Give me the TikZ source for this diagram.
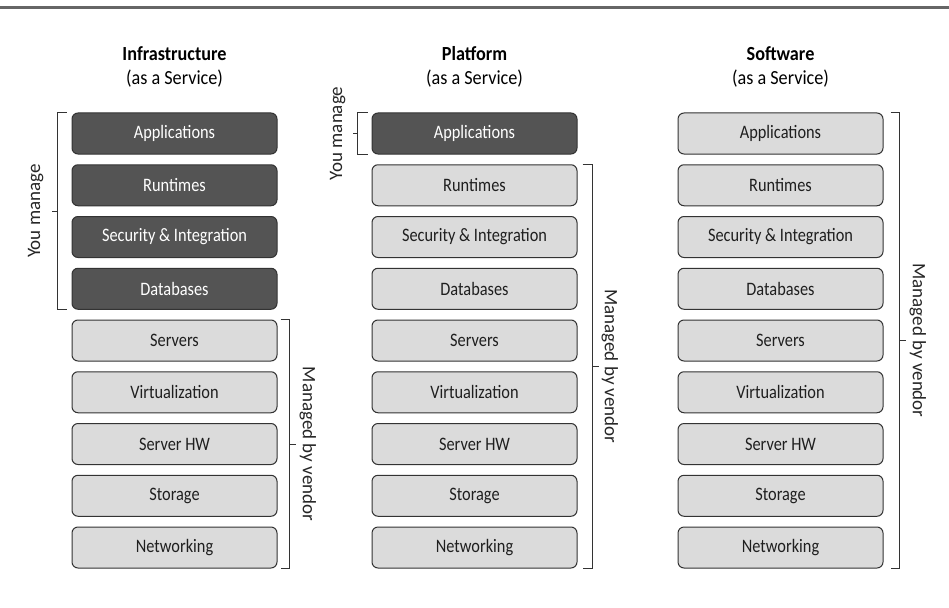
\documentclass[tikz,border=0pt]{standalone}
\usepackage{fontspec}
\setmainfont{Carlito}
\newfontfamily\narrowfont{Carlito}[FakeStretch=0.86]
\newfontfamily\headfont{Carlito}[FakeStretch=0.91]
\usetikzlibrary{positioning,calc}

\tikzset{
  layer/.style={draw=black!80,line width=1pt,rounded corners=6pt,
    minimum width=205pt,minimum height=41pt,inner sep=0pt,
    font=\narrowfont\fontsize{19}{21}\selectfont},
  light/.style={layer,fill=black!14,text=black!88},
  dark/.style={layer,fill=black!67,text=white},
  brace/.style={draw=black!80,line width=0.8pt},
  side/.style={font=\fontsize{19}{21}\selectfont,text=black!85,inner sep=0pt},
  heading/.style={font=\headfont\fontsize{20}{24}\selectfont\bfseries},
  subhead/.style={font=\headfont\fontsize{20}{24}\selectfont}
}

\begin{document}
\begin{tikzpicture}[x=1pt,y=-1pt]
\useasboundingbox (0,0) rectangle (949,607);
\draw[black!60,line width=2.5pt] (0,7.5) -- (949,7.5);

% column titles
\node[heading] (ihead) at (174.5,54) {Infrastructure};
\node[subhead] (isub) at (174.5,79) {(as a Service)};
\node[heading] (phead) at (474.5,54) {Platform};
\node[subhead] (psub) at (474.5,79) {(as a Service)};
\node[heading] (shead) at (780.5,54) {Software};
\node[subhead] (ssub) at (780.5,79) {(as a Service)};

% the stacks
\foreach \lbl [count=\k, evaluate=\k as \yy using 133.5+51.75*(\k-1)] in
  {Applications,Runtimes,Security \& Integration,Databases,Servers,
   Virtualization,Server HW,Storage,Networking} {
  \ifnum\k<5 \def\istyle{dark}\else\def\istyle{light}\fi
  \ifnum\k<2 \def\pstyle{dark}\else\def\pstyle{light}\fi
  \node[\istyle] (i\k) at (174.5,\yy) {\lbl};
  \node[\pstyle] (p\k) at (474.5,\yy) {\lbl};
  \node[light] (s\k) at (780.5,\yy) {\lbl};
}

% Infrastructure brackets
\draw[brace] ([xshift=-5pt]i1.north west) -- ++(-9,0) |- ([xshift=-5pt]i4.south west);
\coordinate (imine) at ($([xshift=-14pt]i1.north west)!0.5!([xshift=-14pt]i4.south west)$);
\draw[brace] (imine) -- ++(-6,0) coordinate (iminetip);
\node[side,rotate=90,anchor=south] at ([xshift=-8pt]iminetip) {You manage};
\draw[brace] ([xshift=3pt]i5.north east) -- ++(9,0) |- ([xshift=3pt]i9.south east);
\coordinate (ivend) at ($([xshift=12pt]i5.north east)!0.5!([xshift=12pt]i9.south east)$);
\draw[brace] (ivend) -- ++(6,0) coordinate (ivendtip);
\node[side,rotate=-90,anchor=south] at ([xshift=4pt]ivendtip) {Managed by vendor};

% Platform brackets
\draw[brace] ([xshift=-4pt]p1.north west) -- ++(-10,0) |- ([xshift=-4pt]p1.south west);
\coordinate (pmine) at ($([xshift=-14pt]p1.north west)!0.5!([xshift=-14pt]p1.south west)$);
\draw[brace] (pmine) -- ++(-5,0) coordinate (pminetip);
\node[side,rotate=90,anchor=south] at ([xshift=-7pt]pminetip) {You manage};
\draw[brace] ([xshift=5pt]p2.north east) -- ++(10,0) |- ([xshift=5pt]p9.south east);
\coordinate (pvend) at ($([xshift=15pt]p2.north east)!0.5!([xshift=15pt]p9.south east)$);
\draw[brace] (pvend) -- ++(6,0) coordinate (pvendtip);
\node[side,rotate=-90,anchor=south] at ([xshift=3pt]pvendtip) {Managed by vendor};

% Software bracket
\draw[brace] ([xshift=7pt]s1.north east) -- ++(9,0) |- ([xshift=7pt]s9.south east);
\coordinate (svend) at ($([xshift=16pt]s1.north east)!0.5!([xshift=16pt]s9.south east)$);
\draw[brace] (svend) -- ++(6,0) coordinate (svendtip);
\node[side,rotate=-90,anchor=south] at ([xshift=4pt]svendtip) {Managed by vendor};
\end{tikzpicture}
\end{document}
